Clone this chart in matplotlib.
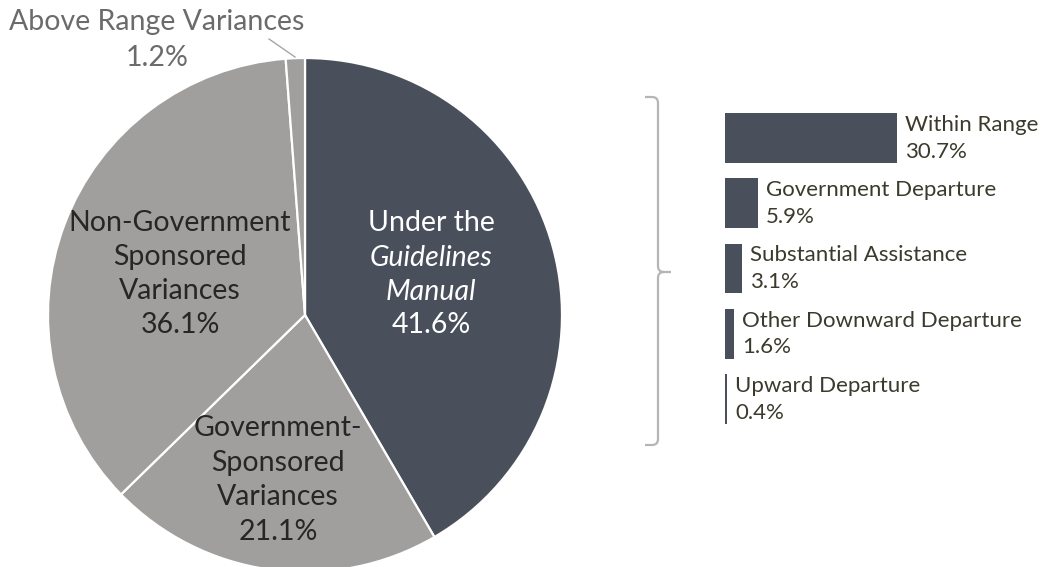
import matplotlib
matplotlib.use("Agg")
import matplotlib.pyplot as plt
from matplotlib.path import Path
from matplotlib.patches import PathPatch

plt.rcParams['font.family'] = ['Lato', 'DejaVu Sans']

# ---- data ----
pie_labels = ["Under the Guidelines Manual", "Government-Sponsored Variances",
              "Non-Government Sponsored Variances", "Above Range Variances"]
pie_values = [41.6, 21.1, 36.1, 1.2]
bar_labels = ["Within Range", "Government Departure", "Substantial Assistance",
              "Other Downward Departure", "Upward Departure"]
bar_values = [30.7, 5.9, 3.1, 1.6, 0.4]

DARK = "#4a505b"
GRAY = "#a09f9e"
W, H = 1045, 567

fig = plt.figure(figsize=(W / 100, H / 100), dpi=100)
ax = fig.add_axes([0, 0, 1, 1])
ax.set_xlim(0, W)
ax.set_ylim(0, H)
ax.set_aspect('equal')
ax.axis('off')

def py(y):  # pixel-from-top -> data y
    return H - y

cx, cy, R = 305, py(315), 257
ax.pie(pie_values, colors=[DARK, GRAY, GRAY, GRAY], startangle=90, counterclock=False,
       center=(cx, cy), radius=R, frame=True,
       wedgeprops=dict(edgecolor='white', linewidth=1.6))
ax.set_xlim(0, W)
ax.set_ylim(0, H)
ax.axis('off')

FS = 20.5
# Under the Guidelines Manual
ux = 431
ax.text(ux, py(223), "Under the", color='white', fontsize=FS, ha='center', va='center')
ax.text(ux, py(258), "Guidelines", color='white', fontsize=FS, ha='center', va='center', style='italic')
ax.text(ux, py(292), "Manual", color='white', fontsize=FS, ha='center', va='center', style='italic')
ax.text(ux, py(325), f"{pie_values[0]}%", color='white', fontsize=FS, ha='center', va='center')

TXT = "#262626"
nx = 180
for i, s in enumerate(["Non-Government", "Sponsored", "Variances", f"{pie_values[2]}%"]):
    ax.text(nx, py(223 + i * 34), s, color=TXT, fontsize=FS, ha='center', va='center')
gx = 278
for i, s in enumerate(["Government-", "Sponsored", "Variances", f"{pie_values[1]}%"]):
    ax.text(gx, py(428 + i * 34.7), s, color=TXT, fontsize=FS, ha='center', va='center')

# Above range label
ax.text(157, py(22), pie_labels[3], color="#6b6b6b", fontsize=FS, ha='center', va='center')
ax.text(157, py(58), f"{pie_values[3]}%", color="#6b6b6b", fontsize=FS, ha='center', va='center')
ax.plot([269, 295], [py(39), py(57)], color="#a6a6a6", lw=1.0)

# bracket
bx = 658
r = 6
verts = [(645, py(97)), (bx - r, py(97)), (bx, py(97)), (bx, py(97 + r)),
         (bx, py(272 - r)), (bx, py(272)), (bx + r, py(272)), (671, py(272)),
         (bx + r, py(272)), (bx, py(272)), (bx, py(272 + r)),
         (bx, py(445 - r)), (bx, py(445)), (bx - r, py(445)), (645, py(445))]
codes = [Path.MOVETO, Path.LINETO, Path.CURVE3, Path.CURVE3,
         Path.LINETO, Path.CURVE3, Path.CURVE3, Path.LINETO,
         Path.MOVETO, Path.CURVE3, Path.CURVE3,
         Path.LINETO, Path.CURVE3, Path.CURVE3, Path.LINETO]
ax.add_patch(PathPatch(Path(verts, codes), fill=False, edgecolor="#b5b5b5", lw=1.6))

# bars
scale = 5.6  # px per percent
bl, bt, bb = 725, 105.4, 431.6
bax = fig.add_axes([bl / W, 1 - bb / H, (W - bl) / W, (bb - bt) / H])
bax.set_xlim(0, (W - bl) / scale)
bax.set_ylim(len(bar_values) - 0.5, -0.5)
bax.axis('off')
rows = list(range(len(bar_values)))
bax.barh(rows, bar_values, height=0.766, color=DARK, left=0)
LEG = "#3b3a2c"
off = 8 / scale
for i, (lab, v) in enumerate(zip(bar_labels, bar_values)):
    bax.text(v + off, i - 0.2, lab, color=LEG, fontsize=16, ha='left', va='center')
    bax.text(v + off, i + 0.21, f"{v}%", color=LEG, fontsize=16, ha='left', va='center')

fig.savefig("out.png", dpi=100)
